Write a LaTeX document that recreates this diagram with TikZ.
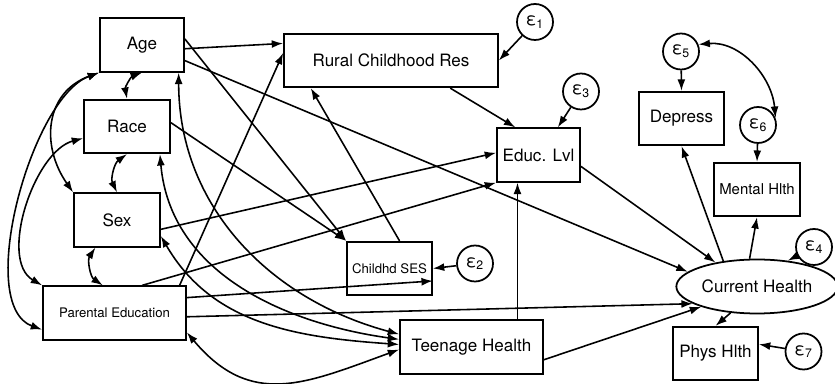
\documentclass[tikz,border=0pt]{standalone}
\usepackage{fontspec}
\setmainfont{TeX Gyre Heros}
\usetikzlibrary{arrows.meta,shapes.geometric}

\tikzset{
  var/.style={draw, line width=1pt, minimum height=1.07cm, inner sep=1pt, font=\fontsize{9.7}{11}\selectfont},
  small/.style={font=\fontsize{7.5}{9}\selectfont},
  err/.style={draw, circle, line width=1pt, minimum size=0.72cm, inner sep=0pt, font=\fontsize{10}{11}\selectfont},
  arr/.style={line width=0.9pt, -{Latex[length=6.5pt,width=4.5pt]}},
  cov/.style={line width=0.9pt, {Latex[length=6.5pt,width=4.5pt]}-{Latex[length=6.5pt,width=4.5pt]}}
}

\begin{document}
\begin{tikzpicture}[x=0.02cm,y=-0.02cm]
\useasboundingbox (0,0) rectangle (835,384);

%exogenous
\node[var, minimum width=1.68cm] (age) at (142,45) {Age};
\node[var, minimum width=1.72cm] (race) at (127,126.5) {Race};
\node[var, minimum width=1.72cm] (sex) at (117,220) {Sex};
\node[var, small, minimum width=2.86cm] (paredu) at (114.5,313) {Parental Education};
\node[var, minimum width=2.86cm] (teen) at (471.5,347) {Teenage Health};

%endogenous
\node[var, minimum width=4.28cm] (rural) at (391,60.5) {Rural Childhood Res};
\node[var, minimum width=1.66cm] (educ) at (538.5,155) {Educ. Lvl};
\node[var, small, minimum width=1.7cm] (ses) at (389.5,268.5) {Childhd SES};
\node[var, ellipse, minimum width=2.84cm, minimum height=1.08cm] (curr) at (757,286.5) {Current Health};
\node[var, minimum width=1.7cm] (depress) at (681.5,118.5) {Depress};
\node[var, minimum width=1.72cm, font=\fontsize{8.5}{10}\selectfont] (mental) at (757,189.5) {Mental Hlth};
\node[var, minimum width=1.7cm] (phys) at (715.5,353.5) {Phys Hlth};

%errors
\node[err] (e1) at (535,22) {ε\textsubscript{1}};
\node[err] (e2) at (475,263.5) {ε\textsubscript{2}};
\node[err] (e3) at (581,91.5) {ε\textsubscript{3}};
\node[err] (e4) at (814,247) {ε\textsubscript{4}};
\node[err] (e5) at (681,51.5) {ε\textsubscript{5}};
\node[err] (e6) at (758,125) {ε\textsubscript{6}};
\node[err] (e7) at (803.5,351.5) {ε\textsubscript{7}};

%paths
\draw[arr] (age.-5) -- (rural.171);
\draw[arr] (age.8) -- (ses.north west);
\draw[arr] (age.-20) -- (curr.168);
\draw[arr] (race.5) -- (ses.north west);
\draw[arr] (sex.-12) -- (educ.177);
\draw[arr] (paredu.23) -- (rural.176);
\draw[arr] (paredu.45) -- (educ.south west);
\draw[arr] (paredu.12) -- (ses.-16);
\draw[arr] (paredu.-3) -- (curr.195);
\draw[arr] (teen.-10) -- (curr.200);
\draw[arr] (teen.31) -- (teen.31 |- educ.south);
\draw[arr] (ses.70) -- (rural.199);
\draw[arr] (rural.-25) -- (educ.130);
\draw[arr] (educ.-15) -- (curr.150);
\draw[arr] (curr.143) -- (depress.south);
\draw[arr] (curr.105) -- (mental.south);
\draw[arr] (curr.225) -- (phys.north);

%error terms
\draw[arr] (e1) -- (rural.east);
\draw[arr] (e2) -- (ses.east);
\draw[arr] (e3) -- (educ.55);
\draw[arr] (e4) -- (curr.40);
\draw[arr] (e5) -- (depress.north);
\draw[arr] (e6) -- (mental.north);
\draw[arr] (e7) -- (phys.12);
\draw[cov] (e5.22) to[out=5,in=95] (e6.22);

%covariances
\draw[cov] (race.north) to[bend left=40] (age.south);
\draw[cov] (sex.north) to[bend left=40] (race.south);
\draw[cov] (paredu.113) to[bend left=45] (sex.-128);
\draw[cov] (age.south west) to[out=200,in=125,looseness=1.2] (sex.north west);
\draw[cov] (age.south west) to[out=200,in=160,looseness=0.7] (paredu.193);
\draw[cov] (race.195) to[out=195,in=150,looseness=0.85] (paredu.north west);
\draw[cov] (age.-37) to[out=-90,in=165] (teen.170);
\draw[cov] (race.-40) to[out=-85,in=172] (teen.174);
\draw[cov] (sex.-20) to[out=-60,in=176] (teen.178);
\draw[cov] (paredu.-15) to[out=-50,in=200,looseness=1.2] (teen.182);

\end{tikzpicture}
\end{document}
